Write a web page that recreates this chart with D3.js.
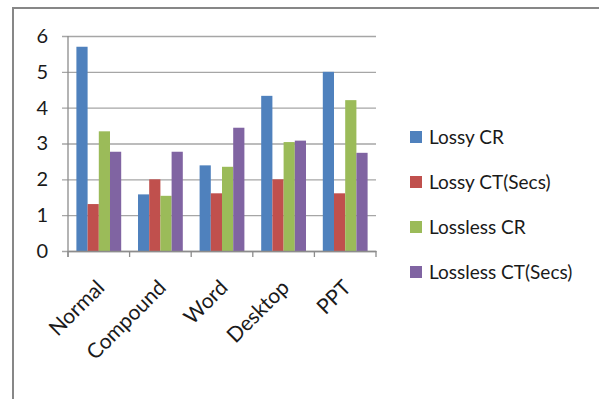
<!DOCTYPE html>
<html>
<head>
<meta charset="utf-8">
<script src="https://cdn.jsdelivr.net/npm/d3@7"></script>
<style>
  body { margin: 0; background: #fff; }
  svg text { font-family: Lato, "Open Sans", sans-serif; fill: #1a1a1a; }
</style>
</head>
<body>
<div id="chart"></div>
<script>
(function() {

// chart values
var categories = ["Normal", "Compound", "Word", "Desktop", "PPT"];
var seriesNames = ["Lossy CR", "Lossy CT(Secs)", "Lossless CR", "Lossless CT(Secs)"];
var lossyCR       = [5.70, 1.58, 2.39, 4.33, 5.00];
var lossyCT       = [1.31, 2.00, 1.61, 2.00, 1.61];
var losslessCR    = [3.34, 1.54, 2.35, 3.04, 4.21];
var losslessCT    = [2.77, 2.77, 3.44, 3.08, 2.74];
var yTicks = [0, 1, 2, 3, 4, 5, 6];

var colors = ["#4f81bd", "#c0504d", "#9bbb59", "#8064a2"];
var seriesValues = [lossyCR, lossyCT, losslessCR, losslessCT];

var width = 599, height = 399;
var plot = {left: 68, right: 376, top: 36, bottom: 251};

var svg = d3.select("#chart").append("svg")
            .attr("width", width)
            .attr("height", height);

// outer chart frame (only top and left edges are visible)
svg.append("path")
   .attr("d", "M13,399 L13,8 L599,8")
   .attr("fill", "none")
   .attr("stroke", "#878787")
   .attr("stroke-width", 2);

var yScale = d3.scaleLinear()
               .domain([0, 6])
               .range([plot.bottom, plot.top]);

var xScale = d3.scaleBand()
               .domain(categories)
               .range([plot.left, plot.right]);

// inner band: 4 bars plus gap of 150% of a bar width
var inner = d3.scaleBand()
              .domain(d3.range(seriesNames.length))
              .range([0, xScale.bandwidth()])
              .paddingOuter(0.75)
              .paddingInner(0);

// gridlines + y labels
var yAxis = d3.axisLeft(yScale)
              .tickValues(yTicks)
              .tickFormat(d3.format("d"))
              .tickSize(-(plot.right - plot.left + 6))
              .tickPadding(14);
var yGroup = svg.append("g")
                .attr("transform", "translate(" + (plot.left - 6) + ",0)")
                .call(yAxis);
yGroup.select(".domain").remove();
yGroup.selectAll(".tick line")
      .attr("stroke", "#a6a6a6")
      .attr("stroke-width", 1.3);
yGroup.selectAll(".tick text")
      .attr("x", -14)
      .attr("font-size", 20)
      .attr("fill", "#1a1a1a");

// bars
var groups = svg.selectAll("g.series")
                .data(seriesValues)
                .enter().append("g")
                  .attr("class", "series")
                  .attr("fill", function(d, i) { return colors[i]; });

groups.each(function(vals, si) {
    d3.select(this).selectAll("rect")
      .data(vals)
      .enter().append("rect")
        .attr("x", function(d, ci) { return xScale(categories[ci]) + inner(si); })
        .attr("y", function(d) { return yScale(d); })
        .attr("width", inner.bandwidth())
        .attr("height", function(d) { return yScale(0) - yScale(d); });
});

// x axis line and tick marks
var xAxis = d3.axisBottom(xScale).tickSize(0).tickFormat("");
var xGroup = svg.append("g")
                .attr("transform", "translate(0," + plot.bottom + ")")
                .call(xAxis);
xGroup.select(".domain").attr("stroke", "#8c8c8c").attr("stroke-width", 1.3);
var xEdges = categories.map(function(c) { return xScale(c); }).concat([plot.right]);
xGroup.selectAll("line.edge")
      .data(xEdges)
      .enter().append("line")
        .attr("class", "edge")
        .attr("x1", function(d) { return d; })
        .attr("x2", function(d) { return d; })
        .attr("y1", 0)
        .attr("y2", 6)
        .attr("stroke", "#8c8c8c")
        .attr("stroke-width", 1.3);

// y axis line
svg.append("line")
   .attr("x1", plot.left).attr("x2", plot.left)
   .attr("y1", plot.top).attr("y2", plot.bottom + 6)
   .attr("stroke", "#8c8c8c")
   .attr("stroke-width", 1.3);

// rotated category labels
svg.selectAll("text.cat")
   .data(categories)
   .enter().append("text")
     .attr("class", "cat")
     .attr("text-anchor", "end")
     .attr("font-size", 21)
     .attr("transform", function(d) {
         return "translate(" + (xScale(d) + xScale.bandwidth() / 2 + 7) + "," + (plot.bottom + 38) + ") rotate(-45)";
     })
     .text(function(d) { return d; });

// legend
var legend = svg.selectAll("g.legend")
                .data(seriesNames)
                .enter().append("g")
                  .attr("class", "legend")
                  .attr("transform", function(d, i) { return "translate(410," + (137 + i * 45) + ")"; });
legend.append("rect")
      .attr("x", 0).attr("y", -6)
      .attr("width", 12).attr("height", 12)
      .attr("fill", function(d, i) { return colors[i]; });
legend.append("text")
      .attr("x", 19)
      .attr("dy", "0.35em")
      .attr("font-size", 19)
      .text(function(d) { return d; });

})();
</script>
</body>
</html>
